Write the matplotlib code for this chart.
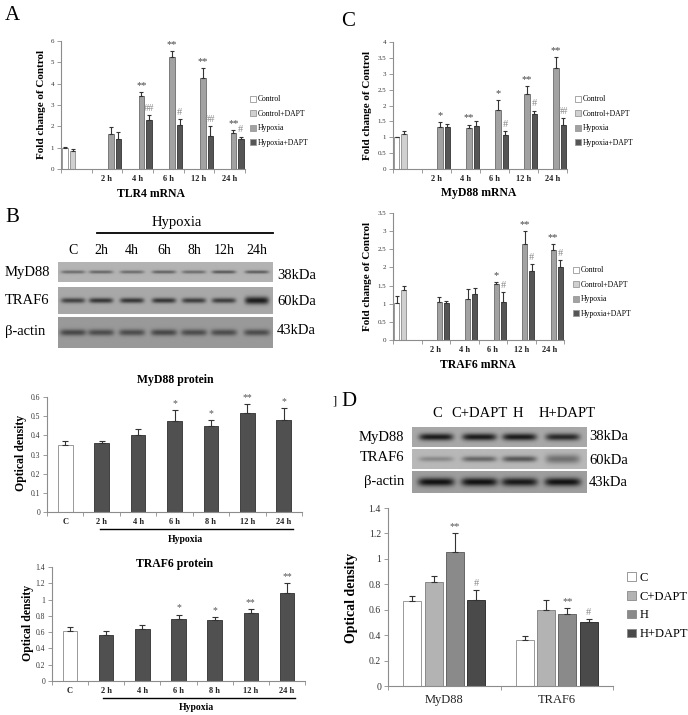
import numpy as np
import matplotlib.pyplot as plt
from matplotlib.patches import Patch
from matplotlib.lines import Line2D

plt.rcParams['font.family'] = ['Liberation Serif', 'DejaVu Serif']

# ---- data ----
mrna_times = ['', '2 h', '4 h', '6 h', '12 h', '24 h']

# A: TLR4 mRNA
tlr4_ctrl, tlr4_ctrl_err = [1.0], [0.03]
tlr4_ctrl_dapt, tlr4_ctrl_dapt_err = [0.85], [0.10]
tlr4_hyp = [1.65, 3.42, 5.25, 4.25, 1.70]
tlr4_hyp_err = [0.30, 0.20, 0.28, 0.47, 0.12]
tlr4_hyp_dapt = [1.40, 2.30, 2.05, 1.55, 1.42]
tlr4_hyp_dapt_err = [0.32, 0.22, 0.30, 0.48, 0.10]
tlr4_hyp_sig = ['', '**', '**', '**', '**']
tlr4_dapt_sig = ['', '##', '#', '##', '#']

# C: MyD88 mRNA
myd88_ctrl, myd88_ctrl_err = [1.0], [0.02]
myd88_ctrl_dapt, myd88_ctrl_dapt_err = [1.10], [0.10]
myd88_hyp = [1.33, 1.30, 1.86, 2.35, 3.19]
myd88_hyp_err = [0.15, 0.10, 0.30, 0.25, 0.33]
myd88_hyp_dapt = [1.33, 1.36, 1.08, 1.72, 1.38]
myd88_hyp_dapt_err = [0.10, 0.14, 0.12, 0.12, 0.22]
myd88_hyp_sig = ['*', '**', '*', '**', '**']
myd88_dapt_sig = ['', '', '#', '#', '##']

# C: TRAF6 mRNA
traf6_ctrl, traf6_ctrl_err = [1.03], [0.19]
traf6_ctrl_dapt, traf6_ctrl_dapt_err = [1.38], [0.11]
traf6_hyp = [1.04, 1.12, 1.55, 2.65, 2.48]
traf6_hyp_err = [0.15, 0.28, 0.05, 0.35, 0.17]
traf6_hyp_dapt = [1.02, 1.28, 1.05, 1.90, 2.00]
traf6_hyp_dapt_err = [0.05, 0.15, 0.28, 0.20, 0.20]
traf6_hyp_sig = ['', '', '*', '**', '**']
traf6_dapt_sig = ['', '', '#', '#', '#']

# B: proteins
prot_lanes = ['C', '2 h', '4 h', '6 h', '8 h', '12 h', '24 h']
myd88_prot = [0.35, 0.36, 0.40, 0.475, 0.447, 0.517, 0.48]
myd88_prot_err = [0.02, 0.01, 0.033, 0.055, 0.033, 0.045, 0.062]
myd88_prot_sig = ['', '', '', '*', '*', '**', '*']
traf6_prot = [0.62, 0.56, 0.64, 0.765, 0.745, 0.84, 1.085]
traf6_prot_err = [0.04, 0.06, 0.045, 0.05, 0.04, 0.045, 0.12]
traf6_prot_sig = ['', '', '', '*', '*', '**', '**']

# D
d_targets = ['MyD88', 'TRAF6']
d_groups = ['C', 'C+DAPT', 'H', 'H+DAPT']
d_c, d_c_err = [0.665, 0.36], [0.045, 0.03]
d_cd, d_cd_err = [0.815, 0.60], [0.05, 0.075]
d_h, d_h_err = [1.055, 0.57], [0.145, 0.04]
d_hd, d_hd_err = [0.675, 0.505], [0.08, 0.02]
d_h_sig = ['**', '**']
d_hd_sig = ['#', '#']

# blot lanes (band darkness / thickness)
b_lane_names = ['C', '2h', '4h', '6h', '8h', '12h', '24h']
b_myd88_dark = [0.28, 0.30, 0.28, 0.32, 0.28, 0.36, 0.34]
b_traf6_dark = [0.40, 0.45, 0.45, 0.45, 0.42, 0.42, 0.55]
b_actin_dark = [0.32, 0.30, 0.30, 0.32, 0.30, 0.30, 0.30]
d_myd88_dark = [0.55, 0.55, 0.55, 0.50]
d_traf6_dark = [0.18, 0.32, 0.38, 0.28]
d_actin_dark = [0.55, 0.55, 0.52, 0.55]

W, H = 688, 715
fig = plt.figure(figsize=(W / 100, H / 100), dpi=100)

c_ctrl, c_cd, c_h, c_hd = 'white', '#d0d0d0', '#a2a2a2', '#555555'
GRAY = '#8c8c8c'


def box(x0, y0, x1, y1):
    return fig.add_axes([x0 / W, 1 - y1 / H, (x1 - x0) / W, (y1 - y0) / H])


def txt(x, y, s, **kw):
    fig.text(x / W, 1 - y / H, s, **kw)


def hline(x0, x1, y, lw=1.0):
    fig.add_artist(Line2D([x0 / W, x1 / W], [1 - y / H] * 2, color='black', lw=lw))


def style(ax, ncat, ymax, ystep, yfs, labels, xfs, xpad, bold=True):
    for s in ['top', 'right']:
        ax.spines[s].set_visible(False)
    for s in ['left', 'bottom']:
        ax.spines[s].set_color(GRAY)
        ax.spines[s].set_linewidth(0.8)
    ax.set_xlim(-0.5, ncat - 0.5)
    ax.set_ylim(0, ymax)
    ticks = np.arange(0, ymax + 1e-9, ystep)
    ax.set_yticks(ticks, [f'{t:g}' for t in ticks])
    ax.tick_params(axis='y', labelsize=yfs, color=GRAY, labelcolor='#333333',
                   length=3, width=0.6, pad=2)
    ax.set_xticks(np.arange(-0.5, ncat, 1), [''] * (ncat + 1))
    ax.tick_params(axis='x', which='major', color=GRAY, length=3, width=0.6)
    ax.set_xticks(np.arange(ncat), labels, minor=True)
    ax.tick_params(axis='x', which='minor', length=0, labelsize=xfs, pad=xpad,
                   labelcolor='#222222')
    if bold:
        for lbl in ax.get_xticklabels(minor=True):
            lbl.set_fontweight('bold')


def bars(ax, x, vals, errs, width, color, edge, sig=None, sig_color='#444444', fs=6,
         cap=1.5):
    x = np.asarray(x, dtype=float)
    ax.bar(x, vals, width, color=color, edgecolor=edge, linewidth=0.7, zorder=2)
    ax.errorbar(x, vals, yerr=[np.zeros(len(vals)), errs], fmt='none',
                ecolor='#333333', elinewidth=0.8, capsize=cap, capthick=0.8, zorder=3)
    if sig:
        for xi, v, e, s in zip(x, vals, errs, sig):
            if s:
                ax.annotate(s, (xi, v + e), xytext=(0, 1.5), textcoords='offset points',
                            ha='center', va='bottom', fontsize=fs, color=sig_color)


def mrna_panel(rect, ymax, ystep, ctrl, ctrl_e, cd, cd_e, hyp, hyp_e, hd, hd_e,
               hsig, dsig, leg_xy):
    ax = box(*rect)
    slot, bw = 0.245, 0.18
    off = [(i - 1.5) * slot for i in range(4)]
    hx = np.arange(1, 6)
    bars(ax, [0 + off[0]], ctrl, ctrl_e, bw, c_ctrl, '#999999')
    bars(ax, [0 + off[1]], cd, cd_e, bw, c_cd, '#999999')
    bars(ax, hx + off[2], hyp, hyp_e, bw, c_h, '#7a7a7a', hsig, '#444444', 7.5)
    bars(ax, hx + off[3], hd, hd_e, bw, c_hd, '#444444', dsig, '#8a8a8a', 7.5)
    style(ax, 6, ymax, ystep, 5, mrna_times, 6, 4.5)
    handles = [Patch(facecolor=c, edgecolor='#999999', linewidth=0.6)
               for c in [c_ctrl, c_cd, c_h, c_hd]]
    ax.legend(handles, ['Control', 'Control+DAPT', 'Hypoxia', 'Hypoxia+DAPT'],
              loc='center left', bbox_to_anchor=(leg_xy[0] / W, 1 - leg_xy[1] / H),
              bbox_transform=fig.transFigure, frameon=False, fontsize=5.5,
              handlelength=0.8, handleheight=0.8, handletextpad=0.2,
              labelspacing=0.85, borderpad=0, borderaxespad=0)
    return ax


def blot(x0, y0, x1, y1, lanes, dark, thick, bg, halfw):
    ax = box(x0, y0, x1, y1)
    xs = np.linspace(x0, x1, int((x1 - x0) * 3))
    ys = np.linspace(y0, y1, int((y1 - y0) * 3))
    X, Y = np.meshgrid(xs, ys)
    img = np.full(X.shape, bg)
    yc = (y0 + y1) / 2
    for lx, d, t in zip(lanes, dark, thick):
        img -= d * np.exp(-((X - lx) / halfw) ** 6) * np.exp(-((Y - yc) / t) ** 2)
    ax.imshow(img, cmap='gray', vmin=0, vmax=1, extent=(x0, x1, y1, y0),
              aspect='auto', interpolation='bilinear')
    ax.axis('off')


# ---- panel A ----
txt(12, 15, 'A', fontsize=15, ha='center', va='center')
mrna_panel((61, 41, 245, 169), 6, 1, tlr4_ctrl, tlr4_ctrl_err, tlr4_ctrl_dapt,
           tlr4_ctrl_dapt_err, tlr4_hyp, tlr4_hyp_err, tlr4_hyp_dapt,
           tlr4_hyp_dapt_err, tlr4_hyp_sig, tlr4_dapt_sig, (250, 121))
txt(42, 104, 'Fold change of Control', rotation=90, fontsize=8, fontweight='bold',
    ha='center', va='center')
txt(151, 194, 'TLR4 mRNA', fontsize=8.5, fontweight='bold', ha='center', va='center')

# ---- panel C ----
txt(348, 21, 'C', fontsize=15, ha='center', va='center')
mrna_panel((393, 42, 567, 169), 4, 0.5, myd88_ctrl, myd88_ctrl_err, myd88_ctrl_dapt,
           myd88_ctrl_dapt_err, myd88_hyp, myd88_hyp_err, myd88_hyp_dapt,
           myd88_hyp_dapt_err, myd88_hyp_sig, myd88_dapt_sig, (575, 121))
txt(368, 105, 'Fold change of Control', rotation=90, fontsize=8, fontweight='bold',
    ha='center', va='center')
txt(479, 193, 'MyD88 mRNA', fontsize=8.5, fontweight='bold', ha='center', va='center')

mrna_panel((393, 213, 564, 340), 3.5, 0.5, traf6_ctrl, traf6_ctrl_err, traf6_ctrl_dapt,
           traf6_ctrl_dapt_err, traf6_hyp, traf6_hyp_err, traf6_hyp_dapt,
           traf6_hyp_dapt_err, traf6_hyp_sig, traf6_dapt_sig, (573, 292))
txt(368, 276, 'Fold change of Control', rotation=90, fontsize=8, fontweight='bold',
    ha='center', va='center')
txt(478, 365, 'TRAF6 mRNA', fontsize=8.5, fontweight='bold', ha='center', va='center')

# ---- panel B blots ----
txt(12, 217, 'B', fontsize=15, ha='center', va='center')
txt(177, 223, 'Hypoxia', fontsize=10.5, ha='center', va='center')
hline(97, 273, 233, 1.3)
b_lane_x = [73, 101, 132, 164, 194, 224, 257]
for x, name in zip(b_lane_x, b_lane_names):
    txt(x, 251, name, fontsize=10, ha='center', va='center')
blot(58, 262, 273, 282, b_lane_x, b_myd88_dark, [1.6] * 7, 0.70, 12)
blot(58, 287, 273, 314, b_lane_x, b_traf6_dark, [2.6] * 6 + [3.8], 0.66, 12)
blot(58, 317, 273, 348, b_lane_x, b_actin_dark, [3.2] * 7, 0.60, 13)
for name, y, kda, ky in [('MyD88', 272, '38kDa', 276), ('TRAF6', 301, '60kDa', 302),
                         ('β-actin', 331, '43kDa', 331)]:
    txt(5, y, name, fontsize=10.5, ha='left', va='center')
    txt(277, ky, kda, fontsize=10.5, ha='left', va='center')
txt(335, 401, ']', fontsize=9, ha='center', va='center')

# ---- panel B protein bar charts ----
prot_colors = ['white'] + ['#505050'] * 6
prot_edges = ['#999999'] + ['#404040'] * 6

ax = box(47, 397, 302, 512)
bars(ax, np.arange(7), myd88_prot, myd88_prot_err, 0.4, prot_colors, prot_edges,
     myd88_prot_sig, '#555555', 7, cap=2)
style(ax, 7, 0.6, 0.1, 5.5, prot_lanes, 6, 4.5)
txt(175, 380, 'MyD88 protein', fontsize=8.5, fontweight='bold', ha='center', va='center')
txt(21, 453, 'Optical density', rotation=90, fontsize=8.5, fontweight='bold',
    ha='center', va='center')
hline(100, 293, 529, 1.0)
txt(185, 540, 'Hypoxia', fontsize=7, fontweight='bold', ha='center', va='center')

ax = box(52, 567, 305, 681)
bars(ax, np.arange(7), traf6_prot, traf6_prot_err, 0.4, prot_colors, prot_edges,
     traf6_prot_sig, '#555555', 7, cap=2)
style(ax, 7, 1.4, 0.2, 5.5, prot_lanes, 6, 4)
txt(175, 564, 'TRAF6 protein', fontsize=8.5, fontweight='bold', ha='center', va='center')
txt(28, 623, 'Optical density', rotation=90, fontsize=8.5, fontweight='bold',
    ha='center', va='center')
hline(103, 295, 698, 1.0)
txt(196, 707, 'Hypoxia', fontsize=7, fontweight='bold', ha='center', va='center')

# ---- panel D ----
txt(349, 401, 'D', fontsize=15, ha='center', va='center')
d_lane_x = [436, 479, 519, 562]
for x, name in zip([437, 479, 518, 567], d_groups):
    txt(x, 413, name, fontsize=10.5, ha='center', va='center')
blot(412, 427, 586, 447, d_lane_x, d_myd88_dark, [3.6] * 4, 0.66, 17)
blot(412, 449, 586, 469, d_lane_x, d_traf6_dark, [2.6, 2.8, 3.0, 4.5], 0.72, 17)
blot(412, 471, 586, 493, d_lane_x, d_actin_dark, [4.2] * 4, 0.62, 18)
for name, y, kda, ky in [('MyD88', 438, '38kDa', 437), ('TRAF6', 457, '60kDa', 460),
                         ('β-actin', 481, '43kDa', 482)]:
    txt(404, y, name, fontsize=10.5, ha='right', va='center')
    txt(589, ky, kda, fontsize=10.5, ha='left', va='center')

ax = box(388, 508, 613, 686)
d_colors = ['white', '#b3b3b3', '#8a8a8a', '#4a4a4a']
d_edges = ['#999999', '#888888', '#666666', '#333333']
d_vals = [d_c, d_cd, d_h, d_hd]
d_errs = [d_c_err, d_cd_err, d_h_err, d_hd_err]
d_sigs = [None, None, d_h_sig, d_hd_sig]
d_sig_colors = ['#444444', '#444444', '#555555', '#8a8a8a']
for i in range(4):
    bars(ax, np.arange(2) + (i - 1.5) * 0.19, d_vals[i], d_errs[i], 0.16, d_colors[i],
         d_edges[i], d_sigs[i], d_sig_colors[i], 7.5, cap=2.5)
style(ax, 2, 1.4, 0.2, 7, d_targets, 9, 6, bold=False)
txt(352, 598, 'Optical density', rotation=90, fontsize=10, fontweight='bold',
    ha='center', va='center')
ax.legend([Patch(facecolor=c, edgecolor='#888888', linewidth=0.6) for c in d_colors],
          d_groups, loc='center left', bbox_to_anchor=(627 / W, 1 - 606 / H),
          bbox_transform=fig.transFigure, frameon=False, fontsize=9,
          handlelength=0.7, handleheight=0.7, handletextpad=0.3, labelspacing=0.55,
          borderpad=0, borderaxespad=0)

fig.savefig('out.png', dpi=100)
